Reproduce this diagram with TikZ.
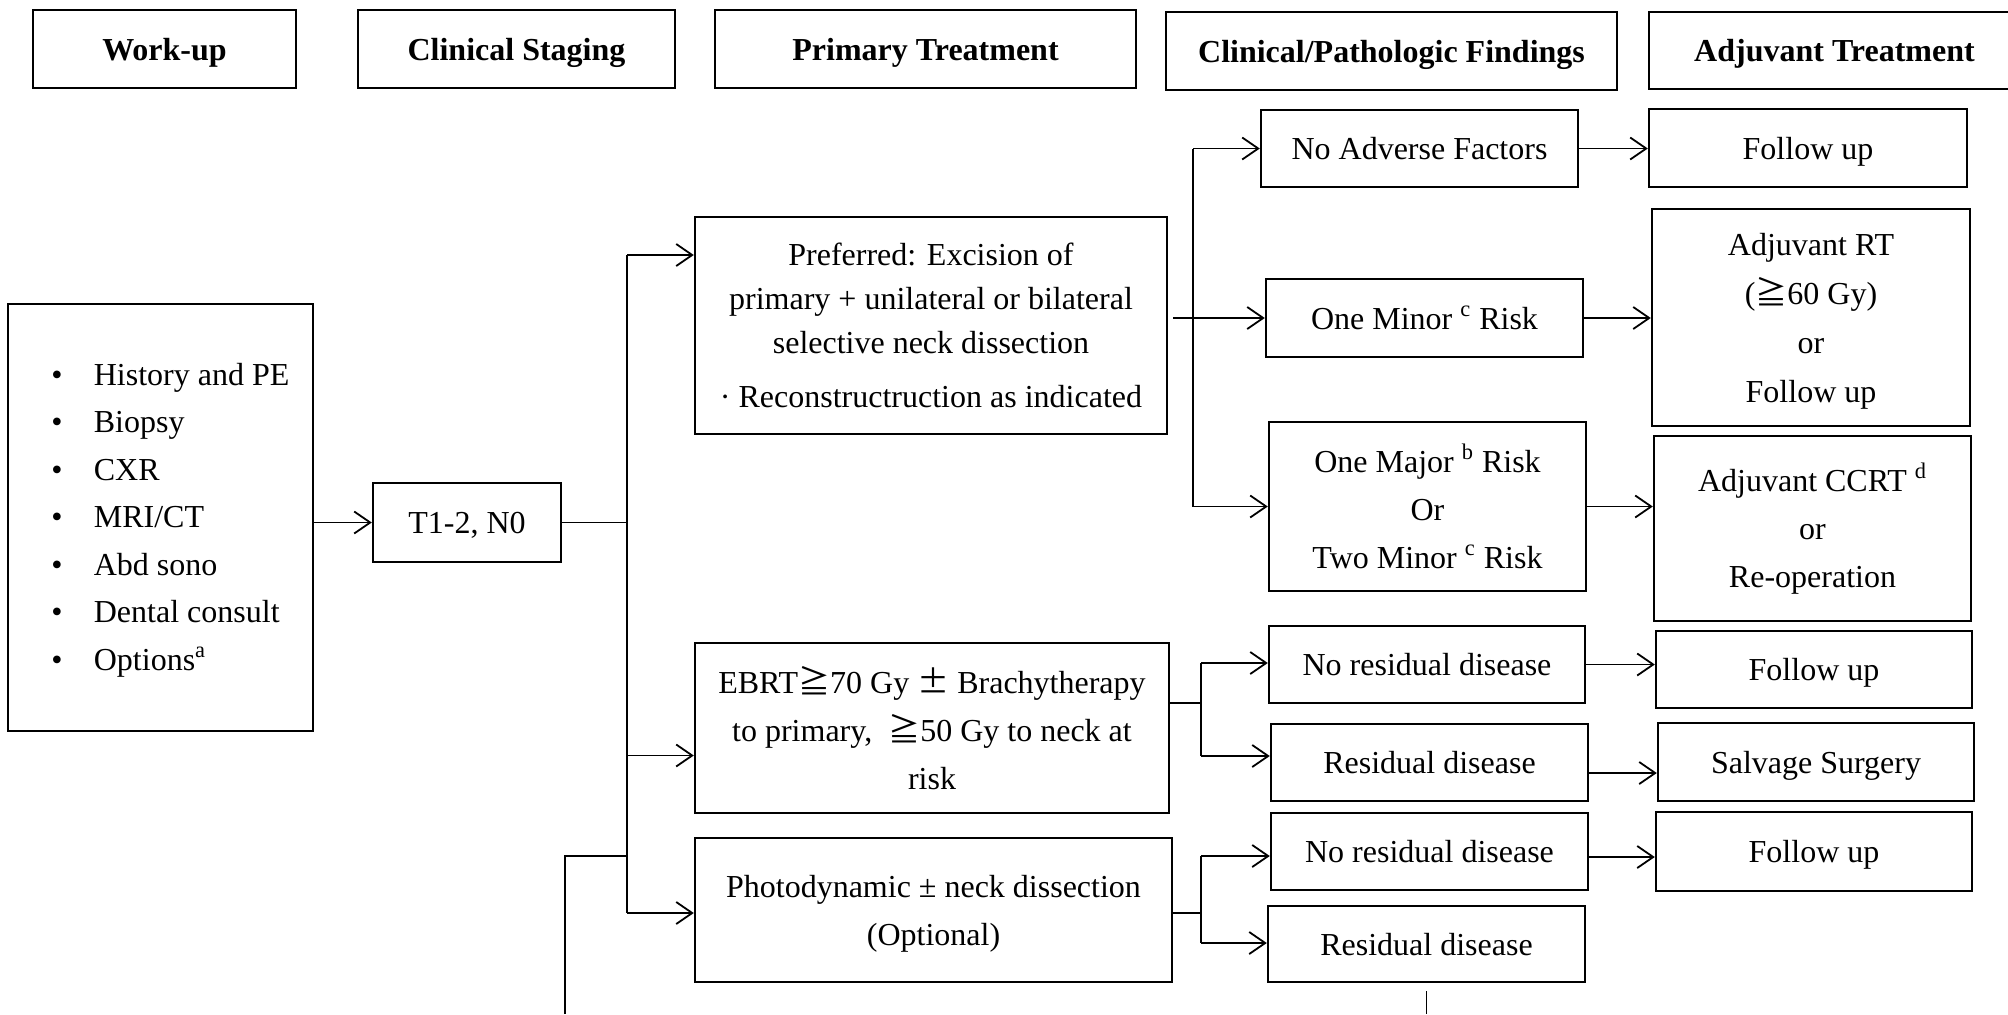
\documentclass[tikz,border=0pt]{standalone}
\usepackage{fontspec}
\setmainfont{Liberation Serif}
\newfontfamily\cjk{Noto Sans CJK SC}
\usetikzlibrary{arrows.meta}
% box from left/top/right/bottom pixel coordinates
\newcommand\bx[7][]{\node[stbox,#1,minimum width={(#5-#3)*0.5pt},minimum height={(#6-#4)*0.5pt}] (#2) at ({(#3+#5)/2},{(#4+#6)/2}) {#7};}
\newcommand\itm[1]{\makebox[21.25pt][l]{•}#1}
\newcommand\tallstrut{\rule{0pt}{15pt}}
\begin{document}
\begin{tikzpicture}[x=0.5pt,y=-0.5pt,
  stbox/.style={draw,line width=1.2pt,inner sep=0pt,align=center,font=\fontsize{16pt}{24pt}\selectfont},
  oneline/.style={text height=12pt,text depth=1pt},
  hdrbox/.style={oneline,line width=1.4pt,font=\fontsize{16pt}{24pt}\selectfont\bfseries},
  listtext/.style={inner sep=0pt,align=left,font=\fontsize{16pt}{23.75pt}\selectfont},
  conn/.style={line width=0.9pt},
  thinconn/.style={line width=0.6pt},
  arr/.style={conn,-{Straight Barb[length=8pt,width=11pt]}}]
\fill[white] (0,0) rectangle (2008,1014);
\useasboundingbox (0,0) rectangle (2008,1014);

% headers
\bx[hdrbox]{h1}{33}{10}{296}{88}{Work-up}
\bx[hdrbox]{h2}{358}{10}{675}{88}{Clinical Staging}
\bx[hdrbox]{h3}{715}{10}{1136}{88}{Primary Treatment}
\bx[hdrbox]{h4}{1166}{12}{1617}{90}{Clinical/Pathologic Findings}
\bx[hdrbox]{h5}{1649}{12}{2020}{89}{Adjuvant Treatment}

% work-up list
\bx{wk}{8}{304}{313}{731}{}
\node[listtext,anchor=west] (wklist) at (51,520) {%
\itm{History and PE}\\
\itm{Biopsy}\\
\itm{CXR}\\
\itm{MRI/CT}\\
\itm{Abd sono}\\
\itm{Dental consult}\\
\itm{Options\textsuperscript{a}}};

\bx[oneline]{t12}{373}{483}{561}{562}{T1-2, N0}

% primary treatment
\bx[font=\fontsize{16pt}{22pt}\selectfont]{pref}{695}{217}{1167}{434}{Preferred: Excision of\\primary + unilateral or bilateral\\selective neck dissection\\[5pt]· Reconstructruction as indicated}
\bx{ebrt}{695}{643}{1169}{813}{EBRT{\cjk ≧}70 Gy {\cjk ±} Brachytherapy\\to primary,\ \ {\cjk ≧}50 Gy to neck at\\risk}
\bx{photo}{695}{838}{1172}{982}{\tallstrut Photodynamic ± neck dissection\\(Optional)}

% findings
\bx[oneline]{noadv}{1261}{110}{1578}{187}{No Adverse Factors}
\bx[oneline]{minor}{1266}{279}{1583}{357}{One Minor \textsuperscript{c} Risk}
\bx{major}{1269}{422}{1586}{591}{One Major \textsuperscript{b} Risk\\Or\\Two Minor \textsuperscript{c} Risk}
\bx[oneline]{nr1}{1269}{626}{1585}{703}{No residual disease}
\bx[oneline]{rd1}{1271}{724}{1588}{801}{Residual disease}
\bx[oneline]{nr2}{1271}{813}{1588}{890}{No residual disease}
\bx[oneline]{rd2}{1268}{906}{1585}{982}{Residual disease}

% adjuvant
\bx[oneline]{fu1}{1649}{109}{1967}{187}{Follow up}
\bx[font=\fontsize{16pt}{24.5pt}\selectfont]{adjrt}{1652}{209}{1970}{426}{\tallstrut Adjuvant RT\\({\cjk ≧}60 Gy)\\or\\Follow up}
\bx{ccrt}{1654}{436}{1971}{621}{Adjuvant CCRT \textsuperscript{d}\\or\\Re-operation}
\bx[oneline]{fu2}{1656}{631}{1972}{708}{Follow up}
\bx[oneline]{salv}{1658}{723}{1974}{801}{Salvage Surgery}
\bx[oneline]{fu3}{1656}{812}{1972}{891}{Follow up}

% connectors: work-up to primary
\coordinate (trA) at (627,255);
\coordinate (trE) at (627,755.5);
\coordinate (trB) at (627,913);
\draw[arr] (wk.east |- t12.west) -- (t12.west);
\draw[thinconn] (t12.east) -- (t12.east -| trA);
\draw[conn] (trA) -- (trB);
\draw[arr] (trA) -- (trA -| pref.west);
\draw[arr] (trE) -- (trE -| ebrt.west);
\draw[arr] (trB) -- (trB -| photo.west);
\coordinate (lpB) at (565,1014);
\coordinate (lpT) at (565,856);
\draw[thinconn] (lpB) -- (lpT) -- (lpT -| trA);

% surgery findings
\coordinate (fx) at (1193,0);
\draw[conn] (fx |- noadv.west) -- (fx |- major.west);
\draw[arr] (fx |- noadv.west) -- (noadv.west);
\draw[arr] (fx |- major.west) -- (major.west);
\path (pref.east |- minor.west) ++(5,0) coordinate (pm);
\draw[arr] (pm) -- (minor.west);
\draw[arr] (noadv.east) -- (noadv.east -| fu1.west);
\draw[arr] (minor.east) -- (minor.east -| adjrt.west);
\draw[arr] (major.east) -- (major.east -| ccrt.west);

% EBRT findings
\coordinate (ex) at (1201,703);
\coordinate (e1) at (1201,663);
\coordinate (e2) at (1201,756);
\draw[thinconn] (ex -| ebrt.east) -- (ex);
\draw[conn] (e1) -- (e2);
\draw[arr] (e1) -- (e1 -| nr1.west);
\draw[arr] (e2) -- (e2 -| rd1.west);
\draw[arr] (nr1.east) -- (nr1.east -| fu2.west);
\path (rd1.east) ++(0,10.5) coordinate (r1o);
\draw[arr] (r1o) -- (r1o -| salv.west);

% photodynamic findings
\coordinate (px) at (1201,913);
\coordinate (p1) at (1201,856);
\coordinate (p2) at (1201,943);
\draw[conn] (px -| photo.east) -- (px);
\draw[conn] (p1) -- (p2);
\draw[arr] (p1) -- (p1 -| nr2.west);
\draw[arr] (p2) -- (p2 -| rd2.west);
\path (nr2.east) ++(0,5.5) coordinate (n2o);
\draw[arr] (n2o) -- (n2o -| fu3.west);
\path (rd2.south) ++(0,8) coordinate (rdt);
\draw[conn] (rdt) -- (rdt |- lpB);
\end{tikzpicture}
\end{document}
